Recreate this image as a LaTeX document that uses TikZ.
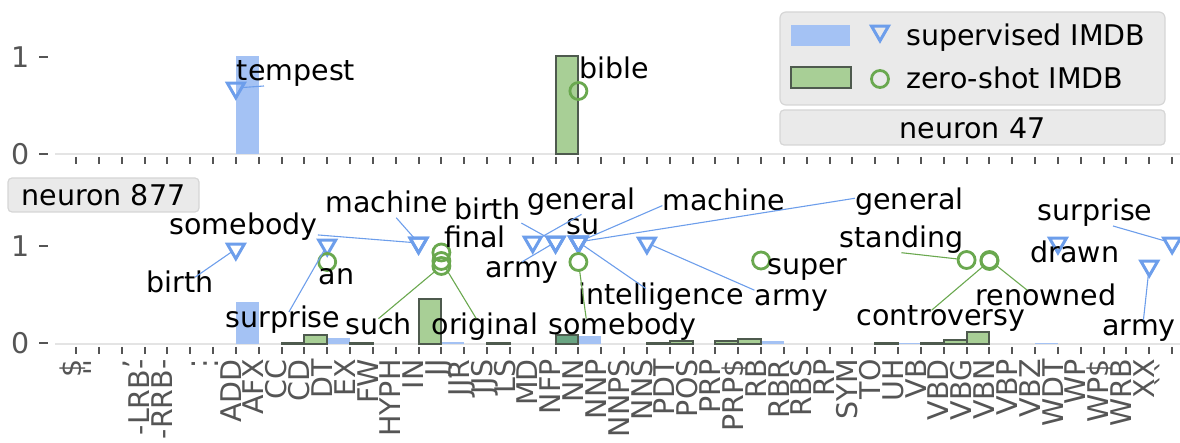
\documentclass[tikz,border=0pt]{standalone}
\usepackage{fontspec}
\setmainfont{DejaVu Sans}[Ligatures=TeXOff]
\usetikzlibrary{shapes.geometric,positioning}

\definecolor{supfill}{HTML}{A4C2F4}
\definecolor{supline}{HTML}{6D9EEB}
\definecolor{zsfill}{HTML}{A8CF96}
\definecolor{zsdark}{HTML}{6AA583}
\definecolor{zsline}{HTML}{6AA84F}
\definecolor{zsedge}{HTML}{4E5A4E}
\definecolor{tickgray}{HTML}{555555}
\definecolor{stripfill}{HTML}{EAEAEA}
\definecolor{stripedge}{HTML}{D6D6D6}
\definecolor{axisline}{HTML}{E4E4E4}

% x position of a POS tag column
\newcommand{\tagx}[1]{(76+22.836*(#1))}

\tikzset{
  word/.style={inner sep=0pt, text height=0.76em, text depth=0.24em, yshift=-1.5pt},
  tag/.style={inner sep=0pt, text height=0.76em, text depth=0.24em,
    text=tickgray, rotate=90, anchor=east},
  num/.style={inner sep=0pt, text=tickgray, anchor=east},
  supmark/.style={regular polygon, regular polygon sides=3, shape border rotate=180,
    draw=supline, line width=1.5pt, minimum size=9.8pt, inner sep=0pt, outer sep=0pt},
  zsmark/.style={circle, draw=zsline, line width=1.4pt, minimum size=8.5pt,
    inner sep=0pt, outer sep=0pt},
  supbar/.style={fill=supfill},
  zsbar/.style={fill=zsfill, draw=zsedge, line width=1pt},
  supconn/.style={draw=supline, line width=0.55pt},
  zsconn/.style={draw=zsline, line width=0.55pt},
  strip/.style={fill=stripfill, draw=stripedge, line width=0.6pt, rounded corners=2pt},
  xtick/.style={draw=tickgray, line width=1pt},
  base/.style={draw=axisline, line width=1pt},
}

\begin{document}
\begin{tikzpicture}[x=0.5pt, y=-0.5pt, font=\fontsize{14.25pt}{17pt}\selectfont]
\useasboundingbox (0,0) rectangle (1180,443);

% zero lines
\draw[base] (55,154) -- (1180,154);
\draw[base] (55,344) -- (1180,344);

% neuron 47 bars
\fill[supbar] ({\tagx{7}},154) rectangle ({\tagx{8}},56);
\draw[zsbar] ({\tagx{21}},154) rectangle ({\tagx{22}},56.5);

% neuron 877 bars
\foreach \i/\top in {7/302, 11/338, 16/342, 22/336, 30/341, 36/343, 42/343}
  \fill[supbar] ({\tagx{\i}},344) rectangle ({\tagx{\i+1}},\top);
\foreach \i/\top in {10/343, 11/335, 13/343, 16/299, 19/343, 26/343, 27/341,
                     29/341, 30/339, 36/343, 38/343, 39/340, 40/332}
  \draw[zsbar] ({\tagx{\i-1}},344) rectangle ({\tagx{\i}},\top);
\draw[zsbar, fill=zsdark] ({\tagx{21}},344) rectangle ({\tagx{22}},335);

% axes
\foreach \i in {0,...,48} {
  \draw[xtick] ({\tagx{\i}},157) -- ({\tagx{\i}},164);
  \draw[xtick] ({\tagx{\i}},347) -- ({\tagx{\i}},354);
}
\foreach \y/\v [count=\k] in {57/1, 154/0, 246.5/1, 343.5/0} {
  \draw[xtick] (39,\y) -- (48,\y);
  \node[num] (ylab\k) at (30,\y) {\v};
}
\foreach \tg [count=\i from 0] in {{\$},{''},{,},{-LRB-},{-RRB-},{.},{:},{ADD},{AFX},
    {CC},{CD},{DT},{EX},{FW},{HYPH},{IN},{JJ},{JJR},{JJS},{LS},{MD},{NFP},{NN},
    {NNP},{NNPS},{NNS},{PDT},{POS},{PRP},{PRP\$},{RB},{RBR},{RBS},{RP},{SYM},
    {TO},{UH},{VB},{VBD},{VBG},{VBN},{VBP},{VBZ},{WDT},{WP},{WP\$},{WRB},{XX},{``}}
  \node[tag] (tag-\i) at ({\tagx{\i}},359) {\tg};

% facet strips
\draw[strip] (780,110) rectangle (1165,145);
\node[word] (title47) at (972.5,130) {neuron 47};
\draw[strip] (8,178) rectangle (199,212);
\node[word] (title877) at (103.5,197) {neuron 877};

% legend
\draw[strip, rounded corners=3pt] (780,12) rectangle (1165,105);
\fill[supbar] (791,25) rectangle (850,46);
\node[supmark] (leg-sup) at (880,31) {};
\node[word, anchor=west] (leg-sup-txt) at (906,37.6) {supervised IMDB};
\draw[zsbar] (791,67.5) rectangle (851,88.5);
\node[zsmark] (leg-zs) at (880,79) {};
\node[word, anchor=west] (leg-zs-txt) at (906,80) {zero-shot IMDB};

% neuron 47 tokens
\node[supmark] (p1-add) at ({\tagx{7}},88) {};
\node[zsmark] (p1-nn) at ({\tagx{22}},91) {};
\node[word] (tempest) at (296,72.6) {tempest};
\node[word] (bible) at (614,70.6) {bible};
\draw[supconn] (tempest.198) -- (p1-add);

% neuron 877 tokens
\node[supmark] (t-add) at ({\tagx{7}},249) {};
\node[supmark] (t-dt) at ({\tagx{11}},245) {};
\node[supmark] (t-in-a) at ({\tagx{15}},243) {};
\node[supmark] (t-in-b) at ({\tagx{15}},243) {};
\node[supmark] (t-md) at ({\tagx{20}},242) {};
\node[supmark] (t-nfp-a) at ({\tagx{21}},242) {};
\node[supmark] (t-nfp-b) at ({\tagx{21}},242) {};
\node[supmark] (t-nn-a) at ({\tagx{22}},242) {};
\node[supmark] (t-nn-b) at ({\tagx{22}},242) {};
\node[supmark] (t-nn-c) at ({\tagx{22}},242) {};
\node[supmark] (t-nn-d) at ({\tagx{22}},242) {};
\node[supmark] (t-nns) at ({\tagx{25}},243) {};
\node[supmark] (t-wdt) at ({\tagx{43}},243) {};
\node[supmark] (t-xx) at ({\tagx{47}},266) {};
\node[supmark] (t-bq) at ({\tagx{48}},243) {};

\node[zsmark] (c-dt) at ({\tagx{11}},262) {};
\node[zsmark] (c-jj-a) at ({\tagx{16}},252.5) {};
\node[zsmark] (c-jj-b) at ({\tagx{16}},261) {};
\node[zsmark] (c-jj-c) at ({\tagx{16}},266) {};
\node[zsmark] (c-nn) at ({\tagx{22}},262) {};
\node[zsmark] (c-rb) at ({\tagx{30}},260.5) {};
\node[zsmark] (c-vbg) at ({\tagx{39}},260) {};
\node[zsmark] (c-vbn-a) at ({\tagx{40}},260) {};
\node[zsmark] (c-vbn-b) at ({\tagx{40}},261) {};

\node[word] (birth1) at (180,284.6) {birth};
\node[word] (somebody1) at (243.5,226) {somebody};
\node[word] (surprise1) at (283,319.3) {surprise};
\node[word] (an) at (336.5,276) {an};
\node[word] (machine1) at (387,204.3) {machine};
\node[word] (such) at (378.5,326) {such};
\node[word] (final) at (475,239.3) {final};
\node[word] (original) at (485,326) {original};
\node[word] (birth2) at (487.5,211) {birth};
\node[word] (general1) at (581.5,201) {general};
\node[word] (su) at (583,226) {su};
\node[word] (army1) at (522,269.3) {army};
\node[word] (machine2) at (724,202.6) {machine};
\node[word] (general2) at (909.5,201) {general};
\node[word] (intelligence) at (661,296) {intelligence};
\node[word] (somebody2) at (622.5,326) {somebody};
\node[word] (super) at (807.5,266) {super};
\node[word] (army2) at (791.5,297.6) {army};
\node[word] (standing) at (901.5,239.3) {standing};
\node[word] (renowned) at (1046,297.6) {renowned};
\node[word] (controversy) at (941,317.6) {controversy};
\node[word] (drawn) at (1075,254.3) {drawn};
\node[word] (surprise2) at (1095,212.6) {surprise};
\node[word] (army3) at (1139,327.6) {army};

\draw[supconn] (birth1) -- (t-add);
\draw[supconn] (somebody1) -- (t-in-a);
\draw[supconn] (surprise1) -- (t-dt);
\draw[supconn] (machine1) -- (t-in-b);
\draw[supconn] (birth2.345) -- (t-nfp-a);
\draw[supconn] (general1.south) -- (t-md);
\draw[supconn] (army1.north) -- (t-nfp-b);
\draw[supconn] (machine2.west) -- (t-nn-b);
\draw[supconn] (general2.174) -- (t-nn-c);
\draw[supconn] (intelligence) -- (t-nn-d);
\draw[supconn] (army2.north west) -- (t-nns);
\draw[supconn] (surprise2.330) -- (t-bq);
\draw[supconn] (army3.67) -- (t-xx);

\draw[zsconn] (such.north) -- (c-jj-c);
\draw[zsconn] (original.130) -- (c-jj-b);
\draw[zsconn] (somebody2.164) -- (c-nn);
\draw[zsconn] (standing.south) -- (c-vbg);
\draw[zsconn] (renowned.151) -- (c-vbn-a);
\draw[zsconn] (controversy.132) -- (c-vbn-b);
\end{tikzpicture}
\end{document}
